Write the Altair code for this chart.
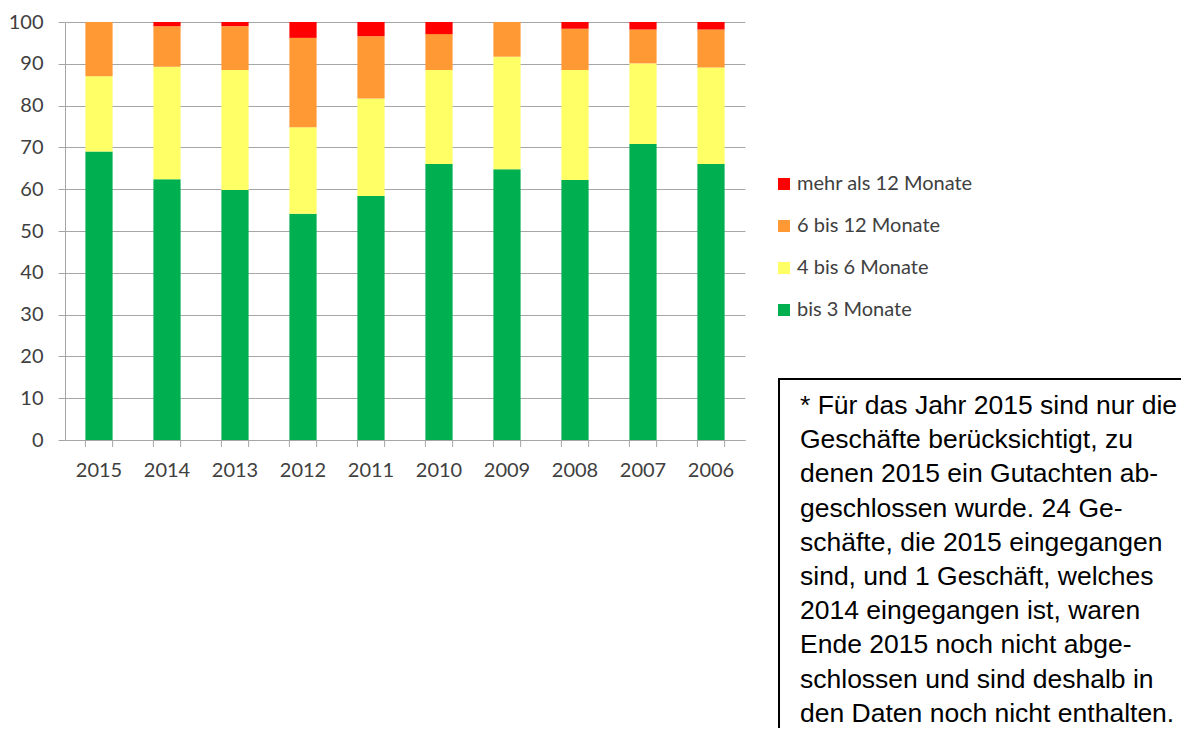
import altair as alt
import pandas as pd

years = ["2015", "2014", "2013", "2012", "2011", "2010", "2009", "2008", "2007", "2006"]
bis_3 = [69.0, 62.4, 59.8, 54.1, 58.4, 66.0, 64.8, 62.2, 70.8, 66.0]
m4_6 = [18.0, 26.9, 28.7, 20.7, 23.3, 22.5, 26.9, 26.3, 19.3, 23.1]
m6_12 = [13.0, 9.7, 10.5, 21.4, 14.9, 8.6, 8.3, 9.9, 8.1, 9.1]
m12_plus = [0.0, 1.0, 1.0, 3.8, 3.4, 2.9, 0.0, 1.6, 1.8, 1.8]

series_names = ["bis 3 Monate", "4 bis 6 Monate", "6 bis 12 Monate", "mehr als 12 Monate"]
series_values = [bis_3, m4_6, m6_12, m12_plus]
series_colors = ["#00B050", "#FFFF66", "#FF9933", "#FF0000"]
y_ticks = [0, 10, 20, 30, 40, 50, 60, 70, 80, 90, 100]

note_lines = [
    "* Für das Jahr 2015 sind nur die",
    "Geschäfte berücksichtigt, zu",
    "denen 2015 ein Gutachten ab-",
    "geschlossen wurde. 24 Ge-",
    "schäfte, die 2015 eingegangen",
    "sind, und 1 Geschäft, welches",
    "2014 eingegangen ist, waren",
    "Ende 2015 noch nicht abge-",
    "schlossen und sind deshalb in",
    "den Daten noch nicht enthalten.",
]

rows = []
for si, (name, vals) in enumerate(zip(series_names, series_values)):
    for y, v in zip(years, vals):
        rows.append({"year": y, "series": name, "value": v, "ord": si})
df = pd.DataFrame(rows)

FONT = "Lato"
GRAY = "#A6A6A6"
LABEL = "#404040"

x_scale = alt.Scale(paddingInner=0.6, paddingOuter=0.3)

bars = alt.Chart(df).mark_bar().encode(
    x=alt.X("year:N", sort=years, scale=x_scale, title=None,
            axis=alt.Axis(labelAngle=0, labelFont=FONT, labelFontSize=20, labelColor=LABEL,
                          ticks=False, labelPadding=20, domainColor=GRAY, domainWidth=1,
                          grid=False)),
    y=alt.Y("value:Q", stack="zero", title=None,
            scale=alt.Scale(domain=[0, 100], nice=False),
            axis=alt.Axis(values=y_ticks, labelFont=FONT, labelFontSize=20, labelColor=LABEL,
                          tickSize=7, tickColor=GRAY, labelPadding=15, domainColor=GRAY,
                          gridColor=GRAY, gridWidth=1)),
    color=alt.Color("series:N",
                    scale=alt.Scale(domain=series_names[::-1], range=series_colors[::-1]),
                    legend=alt.Legend(title=None, orient="none", legendX=709, legendY=152,
                                      symbolType="square", symbolSize=144, symbolStrokeWidth=0,
                                      labelFont=FONT, labelFontSize=20, labelColor=LABEL,
                                      labelLimit=400, rowPadding=22, labelOffset=3)),
    order=alt.Order("ord:Q", sort="ascending"),
)

tick_df = pd.DataFrame({"year": years})
ticks_left = alt.Chart(tick_df).mark_rule(color=GRAY, strokeWidth=1).encode(
    x=alt.X("year:N", sort=years, bandPosition=0, title=None),
    y=alt.value(418), y2=alt.value(425),
)
ticks_right = alt.Chart(tick_df).mark_rule(color=GRAY, strokeWidth=1).encode(
    x=alt.X("year:N", sort=years, bandPosition=1, title=None),
    y=alt.value(418), y2=alt.value(425),
)

box = alt.Chart(pd.DataFrame({"k": [0]})).mark_rect(
    fill="white", stroke="black", strokeWidth=2
).encode(
    x=alt.value(714), x2=alt.value(1200), y=alt.value(357), y2=alt.value(800)
)

note = alt.Chart(pd.DataFrame({"k": [0]})).mark_text(
    text=note_lines, align="left", baseline="top", font="Liberation Sans",
    fontSize=26.5, lineHeight=34.2, color="black"
).encode(x=alt.value(735), y=alt.value(371))

chart = alt.layer(bars, ticks_left, ticks_right, box, note).properties(
    width=680, height=418, autosize="none",
    padding={"left": 57, "top": 14, "right": 436, "bottom": 288},
).configure_view(stroke=None).configure_axis(grid=True)

chart.save("out.html", embed_options={"renderer": "svg", "actions": False})
